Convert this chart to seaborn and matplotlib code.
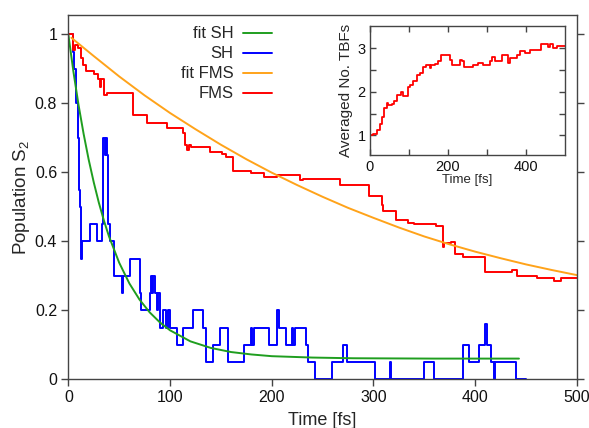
import numpy as np
import pandas as pd
import matplotlib
matplotlib.use("Agg")
import matplotlib.pyplot as plt
import seaborn as sns
from matplotlib.ticker import FixedLocator

# ---- data ----
sh_t = [0, 4.5, 6, 8, 9.5, 10.5, 11.5, 12.8, 13.3, 21.3, 28.5, 32.8, 34.4, 36, 37, 38,
        39.3, 41, 45, 53, 54, 60.7, 70.5, 71.5, 80.4, 81.5, 82.5, 83.5, 85.2, 87, 88,
        90.2, 93, 96, 98, 100, 107, 112.5, 123, 132, 135.4, 142.6, 149.2, 157.3,
        172.8, 179.3, 181, 183, 197.7, 205.5, 207, 214, 219.7, 221.3, 223, 233.4, 236,
        242.6, 259, 269.8, 274.4, 301.6, 316.3, 317.4, 349.8, 359.6, 388.4, 394, 404,
        409.7, 412, 415.5, 418.4, 419.7, 440, 450]
sh_y = [1.0, 0.95, 0.90, 0.80, 0.70, 0.55, 0.50, 0.35, 0.40, 0.45, 0.40, 0.45, 0.70, 0.65, 0.70, 0.65,
        0.45, 0.40, 0.30, 0.25, 0.30, 0.35, 0.25, 0.20, 0.25, 0.30, 0.25, 0.30, 0.25, 0.20, 0.25,
        0.15, 0.20, 0.15, 0.20, 0.15, 0.10, 0.15, 0.20, 0.15, 0.05, 0.10, 0.15, 0.05,
        0.10, 0.15, 0.10, 0.15, 0.10, 0.20, 0.15, 0.10, 0.15, 0.10, 0.15, 0.10, 0.05,
        0.0, 0.05, 0.10, 0.05, 0.0, 0.05, 0.0, 0.05, 0.0, 0.10, 0.05, 0.10,
        0.16, 0.10, 0.05, 0.0, 0.05, 0.0, 0.0]

fms_t = [0, 5, 7, 10, 12.5, 14, 17.6, 25, 29.4, 31.5, 32.5, 35, 38, 64, 77, 97, 113, 115,
         117, 118.5, 121, 139, 151, 155, 162, 180, 192, 205, 228, 231, 267, 296, 308,
         309.5, 322, 334, 340, 361, 368, 369, 376, 380, 388, 410, 436, 441, 461, 477,
         484.5, 500]
fms_y = [1.0, 0.955, 0.97, 0.96, 0.93, 0.91, 0.895, 0.885, 0.87, 0.848, 0.87, 0.825, 0.83,
         0.766, 0.742, 0.728, 0.715, 0.68, 0.665, 0.68, 0.672, 0.66, 0.652, 0.643, 0.605,
         0.598, 0.587, 0.592, 0.578, 0.582, 0.563, 0.53, 0.505, 0.488, 0.462, 0.453, 0.45,
         0.444, 0.384, 0.394, 0.398, 0.364, 0.355, 0.312, 0.316, 0.299, 0.295, 0.286,
         0.293, 0.293]

fit_sh_t = [0, 5, 10, 15, 20, 25, 30, 35, 40, 50, 60, 70, 80, 90, 100, 120, 140, 160, 180,
            200, 240, 280, 320, 360, 400, 443]
fit_sh_y = [1.0, 0.892, 0.796, 0.712, 0.637, 0.571, 0.512, 0.460, 0.414, 0.338, 0.278, 0.231,
            0.194, 0.165, 0.142, 0.110, 0.091, 0.079, 0.072, 0.067, 0.063, 0.061, 0.0605,
            0.060, 0.060, 0.060]

fit_fms_t = [3, 25, 50, 75, 100, 125, 150, 175, 200, 225, 250, 275, 300, 325, 350, 375,
             400, 425, 450, 475, 500]
fit_fms_y = [0.99, 0.937, 0.878, 0.823, 0.772, 0.725, 0.680, 0.638, 0.599, 0.563, 0.529,
             0.497, 0.468, 0.440, 0.414, 0.391, 0.370, 0.351, 0.333, 0.317, 0.302]

tbf_t = [0, 7.7, 17, 25.6, 31.6, 36.8, 42.7, 47, 55.6, 62.4, 68.4, 81, 85, 96.6, 102.6, 111,
         119.7, 128, 137, 145, 154, 158, 167, 175, 182, 199, 205, 211, 231, 237, 242, 252,
         265, 278, 290, 308, 312, 321, 339, 355, 360, 376, 385, 397, 410, 440, 457, 462,
         470, 478.6, 500]
tbf_y = [1.0, 1.04, 1.12, 1.27, 1.42, 1.62, 1.74, 1.70, 1.72, 1.78, 1.93, 2.0, 1.9, 2.1,
         2.16, 2.25, 2.39, 2.43, 2.58, 2.61, 2.55, 2.62, 2.64, 2.70, 2.85, 2.84, 2.74, 2.61,
         2.74, 2.70, 2.58, 2.56, 2.61, 2.66, 2.62, 2.70, 2.80, 2.70, 2.84, 2.66, 2.77, 2.84,
         2.93, 2.89, 2.96, 3.10, 3.04, 3.10, 3.00, 3.06, 3.05]

# ---- style ----
sns.set_theme(style="ticks")
plt.rcParams['font.family'] = ['Liberation Sans', 'DejaVu Sans']
plt.rcParams['mathtext.fontset'] = 'custom'
plt.rcParams['mathtext.rm'] = 'Liberation Sans'

C_GREEN = '#1f9e1f'
C_BLUE = '#0000ff'
C_ORANGE = '#ffa31a'
C_RED = '#ff0000'
SPINE = '#444444'

fig = plt.figure(figsize=(5.89, 4.28), dpi=100)
ax = fig.add_axes([0.1160, 0.1138, 0.8635, 0.8519])

lw = 1.4
sns.lineplot(x=sh_t, y=sh_y, ax=ax, color=C_BLUE, lw=lw, drawstyle='steps-post',
             estimator=None, sort=False, label='SH')
sns.lineplot(x=fms_t, y=fms_y, ax=ax, color=C_RED, lw=lw, drawstyle='steps-post',
             estimator=None, sort=False, label='FMS')
sns.lineplot(x=fit_sh_t, y=fit_sh_y, ax=ax, color=C_GREEN, lw=lw,
             estimator=None, sort=False, label='fit SH')
sns.lineplot(x=fit_fms_t, y=fit_fms_y, ax=ax, color=C_ORANGE, lw=lw,
             estimator=None, sort=False, label='fit FMS')

ax.set_xlim(0, 500)
ax.set_ylim(0, 1.057)
ax.set_xticks([0, 100, 200, 300, 400, 500])
ax.set_yticks([0, 0.2, 0.4, 0.6, 0.8, 1.0])
ax.set_yticklabels(['0', '0.2', '0.4', '0.6', '0.8', '1'])
ax.tick_params(axis='both', direction='out', length=5, width=1, color=SPINE,
               labelsize=11.5, pad=3, right=True, labelcolor='#111111')
for s in ax.spines.values():
    s.set_color(SPINE)
    s.set_linewidth(1.0)
    s.set_visible(True)
ax.set_xlabel('Time [fs]', fontsize=13, labelpad=5)
ax.set_ylabel('Population S$_{\\mathregular{2}}$', fontsize=13.5, labelpad=2)

handles, labels = ax.get_legend_handles_labels()
order = ['fit SH', 'SH', 'fit FMS', 'FMS']
hmap = dict(zip(labels, handles))
ax.legend([hmap[k] for k in order], order, loc='upper right',
          bbox_to_anchor=(0.40, 0.968), frameon=False, markerfirst=False,
          fontsize=12, handlelength=1.7, handletextpad=0.6, labelspacing=0.3,
          borderpad=0, borderaxespad=0)

# ---- inset ----
axin = fig.add_axes([0.628, 0.637, 0.331, 0.302])
sns.lineplot(x=tbf_t, y=tbf_y, ax=axin, color=C_RED, lw=1.3, drawstyle='steps-post',
             estimator=None, sort=False)
axin.set_xlim(0, 500)
axin.set_ylim(0.54, 3.51)
axin.xaxis.set_major_locator(FixedLocator([0, 200, 400]))
axin.xaxis.set_minor_locator(FixedLocator([100, 300]))
axin.yaxis.set_major_locator(FixedLocator([1, 2, 3]))
axin.yaxis.set_minor_locator(FixedLocator([1.5, 2.5]))
axin.tick_params(which='both', direction='in', length=4, width=1, color=SPINE,
                 top=True, right=True, labelsize=10.5, pad=3, labelcolor='#111111')
for s in axin.spines.values():
    s.set_color(SPINE)
    s.set_linewidth(1.0)
    s.set_visible(True)
axin.set_xlabel('Time [fs]', fontsize=9.5, labelpad=0)
axin.set_ylabel('Averaged No. TBFs', fontsize=11, labelpad=3)

fig.savefig('out.png', dpi=100)
